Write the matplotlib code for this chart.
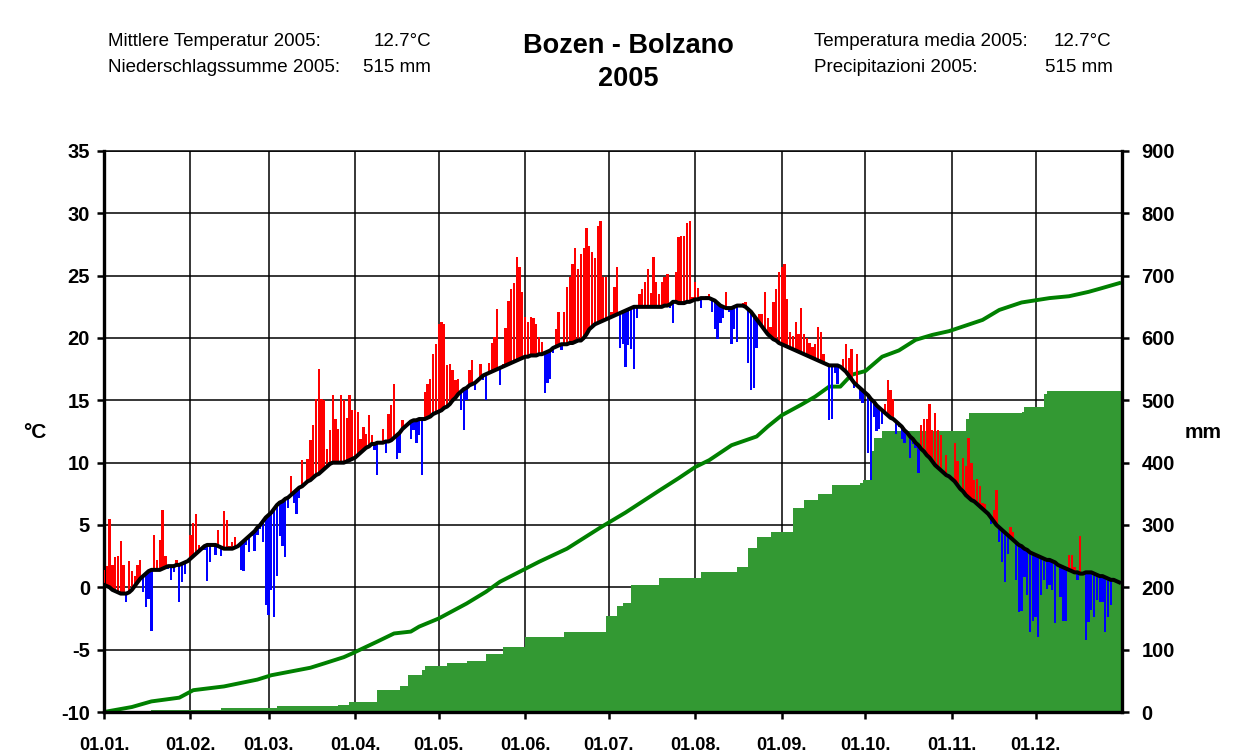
import numpy as np
import matplotlib
matplotlib.use("Agg")
import matplotlib.pyplot as plt

plt.rcParams['font.family'] = ['Liberation Sans', 'DejaVu Sans']
plt.rcParams['axes.unicode_minus'] = False

# ---------------- data ----------------
month_labels = ["01.01.", "01.02.", "01.03.", "01.04.", "01.05.", "01.06.",
                "01.07.", "01.08.", "01.09.", "01.10.", "01.11.", "01.12."]
month_start = [0, 31, 59, 90, 120, 151, 181, 212, 243, 273, 304, 334]

# daily temperature 2005 (°C)
t_jan = [1.4,1.7,5.5,1.8,2.4,2.5,3.7,1.8,-1.2,2.1, 1.3,0.9,1.8,2.2,-0.4,-1.6,-0.9,-3.5,4.2,2.2,
         3.8,6.2,2.5,1.5,0.6,1.2,2.2,-1.2,0.4,1.1, 2.3]
t_feb = [4.2,5.2,5.9,3.4,3.1,3.0,0.5,2.0,3.3,2.6, 4.6,2.5,6.1,5.4,3.3,3.6,4.0,3.3,1.4,1.3,
         3.4,2.8,4.1,2.9,4.2,4.7,3.6,-1.4]
t_mar = [-2.2,-0.2,-2.4,0.9,4.1,3.35,2.4,6.4,8.9,6.8, 5.9,7.2,10.2,8.4,10.3,11.8,13.0,15.1,17.5,15.1,
         15.0,11.1,12.6,15.4,13.5,12.7,15.4,15.0,13.6,15.4, 14.2]
t_apr = [14.2,14.1,11.9,12.9,12.3,13.8,12.2,11.0,9.0,11.7, 12.7,10.8,13.9,14.6,16.3,10.3,10.8,13.4,13.0,13.3,
         11.9,12.6,11.6,12.2,9.0,15.7,16.3,16.7,18.7,19.5]
t_may = [21.1,21.3,21.1,17.8,17.9,17.4,16.6,16.7,14.2,12.6, 15.0,17.4,18.2,15.8,16.7,17.9,16.6,15.0,18.0,19.6,
         20.1,22.3,16.2,17.9,20.8,23.0,23.9,24.4,26.5,25.7, 23.7]
t_jun = [21.7,21.3,21.7,21.6,21.1,20.1,19.7,15.6,16.4,16.7, 18.8,20.7,22.1,19.0,22.1,24.1,24.9,25.9,27.2,25.5,
         26.7,27.2,28.8,27.4,26.9,26.4,29.0,29.4,24.9,24.9]
t_jul = [21.8,22.1,24.1,25.7,19.2,19.5,17.7,19.4,19.1,17.5, 21.6,23.5,23.9,24.5,25.5,23.6,26.5,24.5,23.5,24.5,
         24.9,25.1,22.4,21.2,25.3,28.1,28.2,28.2,29.2,29.4, 23.3]
t_aug = [24.5,24.0,22.4,23.2,23.4,23.5,22.1,20.7,19.9,21.2, 21.6,23.7,22.1,19.5,20.7,19.7,22.6,22.8,22.9,18.0,
         15.8,16.0,19.2,21.9,21.9,23.7,21.6,20.9,22.9,23.9, 25.3]
t_sep = [25.7,25.9,23.1,20.5,20.2,21.3,20.3,22.4,20.3,20.0, 19.6,19.3,19.5,20.9,20.5,18.7,17.8,13.4,13.5,17.2,
         16.3,17.7,18.3,19.5,18.4,19.1,16.0,18.7,15.1,14.8]
t_oct = [15.6,10.8,8.6,13.7,12.5,12.7,13.1,14.7,16.6,15.8, 15.1,12.3,12.9,11.9,11.6,12.4,10.4,11.5,11.2,9.2,
         13.0,13.5,13.5,14.7,12.6,14.0,12.6,12.2,9.3,10.6, 8.9]
t_nov = [8.7,11.6,10.1,8.0,10.4,9.7,12.0,10.0,8.6,8.7, 8.1,6.8,6.7,5.9,5.1,6.2,7.8,3.6,2.0,0.4,
         2.7,4.8,4.4,0.6,-2.0,-1.9,0.8,-0.6,-3.6,-2.7]
t_dec = [-2.4,-4.0,-0.6,0.6,-0.1,0.15,-0.24,-2.9,1.8,-0.8, -2.7,-2.7,2.6,2.6,1.6,0.6,4.1,1.1,-4.2,-2.8,
         -1.8,-2.4,-1.0,-1.2,-1.2,-3.6,-2.4,-1.4,0.5,0.4, 0.3]

# long-term mean daily temperature (°C)
m_jan = [0.2,0.1,0.0,-0.2,-0.3,-0.4,-0.5,-0.5,-0.5,-0.4, -0.2,0.1,0.4,0.7,0.9,1.1,1.3,1.4,1.4,1.4,
         1.4,1.5,1.6,1.7,1.7,1.7,1.8,1.8,1.9,2.0, 2.1]
m_feb = [2.3,2.5,2.7,2.9,3.1,3.3,3.4,3.4,3.4,3.4, 3.3,3.2,3.1,3.1,3.1,3.1,3.2,3.3,3.5,3.7,
         3.9,4.1,4.3,4.5,4.8,5.0,5.3,5.6]
m_mar = [5.8,6.0,6.3,6.6,6.8,6.9,7.1,7.2,7.4,7.6, 7.8,8.0,8.1,8.3,8.5,8.6,8.8,9.0,9.1,9.3,
         9.5,9.7,9.9,10.0,10.0,10.0,10.0,10.0,10.1,10.2, 10.3]
m_apr = [10.4,10.6,10.8,11.0,11.2,11.3,11.5,11.5,11.6,11.6, 11.6,11.7,11.7,11.8,12.0,12.2,12.4,12.7,12.9,13.1,
         13.3,13.4,13.4,13.5,13.5,13.5,13.6,13.7,13.9,14.0]
m_may = [14.1,14.2,14.4,14.5,14.7,15.0,15.2,15.5,15.7,15.9, 16.0,16.2,16.3,16.4,16.6,16.8,17.0,17.1,17.2,17.3,
         17.4,17.5,17.6,17.7,17.8,17.9,18.0,18.1,18.2,18.3, 18.4]
m_jun = [18.5,18.5,18.6,18.6,18.6,18.7,18.7,18.8,18.9,19.0, 19.2,19.3,19.4,19.5,19.5,19.5,19.6,19.6,19.7,19.8,
         19.8,20.0,20.3,20.7,20.9,21.1,21.2,21.3,21.4,21.5]
m_jul = [21.6,21.7,21.8,21.9,22.0,22.1,22.2,22.3,22.4,22.5, 22.5,22.5,22.5,22.5,22.5,22.5,22.5,22.5,22.5,22.5,
         22.6,22.6,22.7,22.9,22.9,22.8,22.8,22.8,22.9,22.9, 23.0]
m_aug = [23.1,23.1,23.2,23.2,23.2,23.2,23.1,23.0,22.8,22.6, 22.5,22.4,22.4,22.4,22.5,22.6,22.6,22.6,22.5,22.3,
         22.1,21.8,21.5,21.2,20.9,20.6,20.3,20.1,19.9,19.8, 19.6]
m_sep = [19.5,19.4,19.3,19.2,19.1,19.0,18.9,18.8,18.7,18.6, 18.5,18.4,18.3,18.2,18.1,18.0,17.9,17.8,17.8,17.8,
         17.8,17.7,17.5,17.3,17.0,16.7,16.4,16.2,16.0,15.8]
m_oct = [15.6,15.4,15.1,14.9,14.6,14.4,14.2,14.0,13.8,13.6, 13.5,13.3,13.1,12.9,12.6,12.4,12.1,11.9,11.6,11.4,
         11.1,10.9,10.6,10.4,10.1,9.8,9.6,9.4,9.2,9.0, 8.9]
m_nov = [8.7,8.5,8.2,7.9,7.7,7.4,7.2,7.0,6.9,6.7, 6.5,6.3,6.1,5.9,5.6,5.3,5.0,4.8,4.6,4.4,
         4.2,4.0,3.8,3.6,3.4,3.3,3.1,3.0,2.8,2.7]
m_dec = [2.6,2.5,2.4,2.3,2.2,2.2,2.1,2.0,1.8,1.7, 1.6,1.5,1.4,1.3,1.2,1.2,1.1,1.1,1.2,1.2,
         1.2,1.1,1.0,0.9,0.9,0.8,0.7,0.6,0.6,0.5, 0.4]

# cumulative precipitation 2005 (mm): day of rain and running total after it
p_days = [17,42,62,84,88,98,106,109,114,115,123,130,137,143,151,165,180,184,186,189,
          199,214,227,231,234,239,247,251,256,261,271,272,275,276,279,309,310,329,330,337,338]
p_cum = [4,7,10,11,16,35,42,59,67,73,78,82,93,105,121,128,154,170,175,204,
         215,225,233,263,281,289,327,340,350,364,367,372,418,440,451,470,479,482,490,510,515]

# long-term mean cumulative precipitation (mm)
c_days = [0,10,17,27,32,43,55,60,67,74,79,86,89,98,104,110,113,120,130,137,142,156,166,178,
          187,199,206,212,217,225,234,238,243,250,255,260,264,268,273,279,285,291,297,303,
          315,321,329,339,346,353,357,364]
c_cum = [0,8,17,23,35,41,52,59,65,71,78,88,94,113,126,129,137,150,174,193,209,241,262,296,
         320,355,375,393,404,428,442,458,476,493,506,522,522,541,547,570,580,597,605,611,
         629,645,657,664,667,674,679,688]

temp = np.array(t_jan + t_feb + t_mar + t_apr + t_may + t_jun + t_jul + t_aug +
                t_sep + t_oct + t_nov + t_dec)
mean = np.array(m_jan + m_feb + m_mar + m_apr + m_may + m_jun + m_jul + m_aug +
                m_sep + m_oct + m_nov + m_dec)
days = np.arange(len(temp))

# ---------------- figure ----------------
W, H = 1247, 756
fig = plt.figure(figsize=(W / 100, H / 100), dpi=100)
ax_p = fig.add_axes([104 / W, 1 - 712 / H, 1018 / W, 561 / H])
ax_t = ax_p.twinx()

# precipitation axis (right)
ax_p.set_xlim(0, 365)
ax_p.set_ylim(0, 900)
ax_p.set_axisbelow(True)
ax_p.grid(True, color='black', linewidth=1.1, zorder=0)
sx = [0] + p_days + [365]
sy = [0] + p_cum + [p_cum[-1]]
ax_p.fill_between(sx, sy, step='post', color='#339933', linewidth=0, zorder=1)
ax_p.plot(c_days, c_cum, color='#008000', linewidth=2.8, zorder=2)
ax_p.set_yticks(range(0, 901, 100))
ax_p.yaxis.tick_right()
ax_p.set_xticks(month_start)
ax_p.set_xticklabels(month_labels)

# temperature axis (left)
ax_t.set_ylim(-10, 35)
ax_t.set_xlim(0, 365)
dev = temp - mean
colors = np.where(dev >= 0, '#ff0000', '#0000ff')
ax_t.bar(days, dev, bottom=mean, width=0.82, color=colors, linewidth=0, zorder=3)
ax_t.plot(days, mean, color='black', linewidth=2.9, zorder=4)
ax_t.set_yticks(range(-10, 36, 5))
ax_t.yaxis.tick_left()

for s in ax_t.spines.values():
    s.set_visible(False)
for side in ('left', 'right', 'bottom'):
    ax_p.spines[side].set_linewidth(2.4)
ax_p.spines['top'].set_linewidth(1.1)

ax_t.tick_params(axis='y', which='both', direction='out', length=5, width=1.8,
                 pad=5, labelsize=14.5)
ax_p.tick_params(axis='y', which='both', direction='out', length=5, width=1.8,
                 pad=9, labelsize=14.5, left=False, labelleft=False,
                 right=True, labelright=True)
ax_p.tick_params(axis='x', direction='out', length=5, width=1.8, pad=13, labelsize=13)
for lab in ax_t.get_yticklabels() + ax_p.get_yticklabels() + ax_p.get_xticklabels():
    lab.set_fontweight('bold')

def fx(px):
    return px / W

def fy(py):
    return 1 - py / H

fig.text(fx(35), fy(432), "°C", fontsize=15, fontweight='bold', ha='center', va='center')
fig.text(fx(1203), fy(432), "mm", fontsize=15, fontweight='bold', ha='center', va='center')

fig.text(fx(628), fy(46), "Bozen - Bolzano", fontsize=19.5, fontweight='bold',
         ha='center', va='center')
fig.text(fx(628), fy(79), "2005", fontsize=19.5, fontweight='bold', ha='center', va='center')

hs = 13.5
fig.text(fx(108), fy(42), "Mittlere Temperatur 2005:", fontsize=hs, ha='left', va='center')
fig.text(fx(431), fy(42), "12.7°C", fontsize=hs, ha='right', va='center')
fig.text(fx(108), fy(67), "Niederschlagssumme 2005:", fontsize=hs, ha='left', va='center')
fig.text(fx(431), fy(67), "515 mm", fontsize=hs, ha='right', va='center')
fig.text(fx(814), fy(42), "Temperatura media 2005:", fontsize=hs, ha='left', va='center')
fig.text(fx(1111), fy(42), "12.7°C", fontsize=hs, ha='right', va='center')
fig.text(fx(814), fy(67), "Precipitazioni 2005:", fontsize=hs, ha='left', va='center')
fig.text(fx(1113), fy(67), "515 mm", fontsize=hs, ha='right', va='center')

fig.savefig("out.png", dpi=100)
